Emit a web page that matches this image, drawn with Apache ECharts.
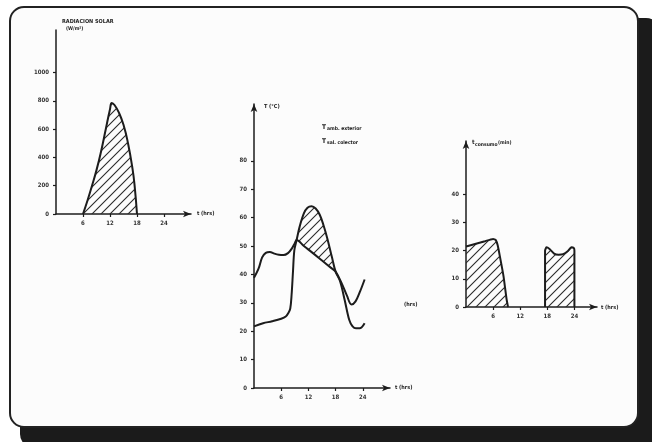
<!DOCTYPE html>
<html><head><meta charset="utf-8">
<script src="https://cdn.jsdelivr.net/npm/echarts@6/dist/echarts.min.js"></script>
<style>html,body{margin:0;padding:0;background:#fff}#c{width:652px;height:442px}</style>
</head><body><div id="c"></div>
<script>
// ---------- data ----------
const hourTicks = [6, 12, 18, 24];

// Chart 1: solar radiation (W/m2)
const radHours  = [6, 7, 8, 9, 10, 11, 12, 12.4, 13, 14, 15, 16, 17, 17.5, 18];
const radValues = [0, 95, 200, 310, 440, 590, 740, 785, 770, 715, 630, 500, 320, 190, 0];
const radTicks  = [0, 200, 400, 600, 800, 1000];

// Chart 2: temperatures (°C)
const extHours  = [0, 1, 1.8, 2.6, 3.5, 4.5, 5.5, 6.5, 7.5, 8.3, 9.0, 9.4, 11, 13, 15, 17, 18, 19.3, 20.5, 21.5, 22.4, 23.4, 24.4];
const extValues = [38.8, 42, 46, 47.6, 47.9, 47.3, 46.9, 46.8, 47.5, 49, 51, 52.1, 50, 47.5, 44.9, 42.3, 41, 37, 32.5, 29.4, 30.5, 34, 38.2];
const colHours  = [0, 2, 4, 6, 7, 7.6, 8.0, 8.3, 8.6, 8.9, 9.4, 10.1, 11, 11.8, 12.7, 13.6, 14.5, 15.3, 16.2, 17.2, 18, 19, 20, 21, 21.7, 22.5, 23.3, 24.4];
const colValues = [21.7, 22.8, 23.5, 24.4, 25.2, 26.5, 28, 33, 41, 48.5, 52.1, 57, 61.5, 63.5, 64, 63.2, 61, 57.5, 52.5, 46, 41, 37.5, 31, 24, 21.8, 21, 21, 22.8];
const tempTicks = [0, 10, 20, 30, 40, 50, 60, 70, 80];
const hatchStart = 9.4, hatchEnd = 18;

// Chart 3: consumption (min)
const cons1Hours  = [0, 2, 4, 6, 6.6, 7.0, 7.5, 8.3, 9.0, 9.3];
const cons1Values = [21.5, 22.4, 23.3, 24.2, 23.8, 22, 18, 11, 2.6, 0];
const cons2Hours  = [17.5, 17.5, 17.8, 18.5, 19.5, 20.5, 21.5, 22.5, 23.3, 23.9, 24, 24];
const cons2Values = [0, 20, 21.2, 20.6, 19, 18.6, 18.8, 19.8, 21.2, 20.9, 20, 0];
const consTicks = [0, 10, 20, 30, 40];

// ---------- helpers ----------
const zip = (xs, ys) => xs.map((x, i) => [x, ys[i]]);
const INK = '#1c1c1c';
const FONT = '"DejaVu Sans Condensed", "DejaVu Sans", sans-serif';

function makeHatch() {
  const s = 9, c = document.createElement('canvas');
  c.width = s; c.height = s;
  const g = c.getContext('2d');
  g.strokeStyle = '#2a2a2a'; g.lineWidth = 1.1;
  g.beginPath();
  g.moveTo(0, s); g.lineTo(s, 0);
  g.moveTo(-2, 2); g.lineTo(2, -2);
  g.moveTo(s - 2, s + 2); g.lineTo(s + 2, s - 2);
  g.stroke();
  return c;
}
const hatchCanvas = makeHatch();
const hatchFill = { image: hatchCanvas, repeat: 'repeat' };

const labelStyle = { fontSize: 6, fontWeight: 'bold', color: '#333', fontFamily: FONT, formatter: v => String(v) };

function xAx(gi, max) {
  return {
    type: 'value', gridIndex: gi, min: 0, max: max,
    axisLine: { show: true, onZero: false, symbol: ['none', 'arrow'], symbolSize: [5, 8], lineStyle: { color: INK, width: 1.5 } },
    axisTick: { show: true, customValues: hourTicks, length: 3, lineStyle: { color: INK, width: 1.2 } },
    axisLabel: Object.assign({ customValues: hourTicks, margin: 6 }, labelStyle),
    splitLine: { show: false }
  };
}
function yAx(gi, max, ticks, arrow) {
  return {
    type: 'value', gridIndex: gi, min: 0, max: max,
    axisLine: { show: true, onZero: false, symbol: arrow ? ['none', 'arrow'] : 'none', symbolSize: [5, 8], lineStyle: { color: INK, width: 1.5 } },
    axisTick: { show: true, customValues: ticks, length: 3, lineStyle: { color: INK, width: 1.2 } },
    axisLabel: Object.assign({ customValues: ticks, margin: 7 }, labelStyle),
    splitLine: { show: false }
  };
}
function txt(x, y, text, size, extra) {
  return Object.assign({ type: 'text', z: 50, style: { x: x, y: y, text: text, fill: '#222', font: 'bold ' + size + 'px ' + FONT, verticalAlign: 'middle' } }, extra || {});
}
const lineBase = { type: 'line', showSymbol: false, symbol: 'none', silent: true, lineStyle: { color: INK, width: 2 } };

const chart = echarts.init(document.getElementById('c'));
chart.setOption({
  backgroundColor: '#ffffff',
  animation: false,
  graphic: [
    { type: 'rect', z: -100, shape: { x: 20, y: 18, width: 640, height: 430, r: 14 }, style: { fill: '#1b1b1b' } },
    { type: 'rect', z: -99, shape: { x: 10, y: 7, width: 628, height: 420, r: 14 }, style: { fill: '#fcfcfc', stroke: '#222', lineWidth: 2 } },
    txt(62, 22, 'RADIACION SOLAR', 5.5),
    txt(66, 29, '(W/m²)', 5),
    txt(197, 214, 't (hrs)', 5.5),
    txt(264, 107, 'T (°C)', 5.5),
    txt(322, 127, 'T', 6.5),
    txt(327, 129, 'amb. exterior', 5),
    txt(322, 141, 'T', 6.5),
    txt(327, 143, 'sal. colector', 5),
    txt(395, 388, 't (hrs)', 5.5),
    txt(404, 305, '(hrs)', 5.5),
    txt(472, 142, 't', 6),
    txt(475, 145, 'consumo', 5),
    txt(498, 143, '(min)', 5),
    txt(601, 308, 't (hrs)', 5.5)
  ],
  grid: [
    { left: 56, top: 30, width: 135, height: 184 },
    { left: 254, top: 104, width: 136, height: 284 },
    { left: 466, top: 141, width: 131, height: 166 }
  ],
  xAxis: [xAx(0, 30), xAx(1, 30), xAx(2, 29)],
  yAxis: [yAx(0, 1300, radTicks, false), yAx(1, 100, tempTicks, true), yAx(2, 59, consTicks, true)],
  series: [
    Object.assign({}, lineBase, { xAxisIndex: 0, yAxisIndex: 0, smooth: 0.5, data: zip(radHours, radValues), areaStyle: { color: hatchFill, opacity: 1 } }),
    {
      type: 'custom', xAxisIndex: 1, yAxisIndex: 1, silent: true, z: 1,
      data: [[hatchStart, 0]],
      renderItem: function (params, api) {
        const up = zip(colHours, colValues).filter(p => p[0] >= hatchStart && p[0] <= hatchEnd);
        const lo = zip(extHours, extValues).filter(p => p[0] >= hatchStart && p[0] <= hatchEnd).reverse();
        const pts = up.concat(lo).map(p => api.coord(p));
        return { type: 'polygon', shape: { points: pts }, style: { fill: hatchFill, stroke: null } };
      }
    },
    Object.assign({}, lineBase, { xAxisIndex: 1, yAxisIndex: 1, smooth: 0.35, z: 3, data: zip(extHours, extValues) }),
    Object.assign({}, lineBase, { xAxisIndex: 1, yAxisIndex: 1, smooth: 0.35, z: 3, data: zip(colHours, colValues) }),
    Object.assign({}, lineBase, { xAxisIndex: 2, yAxisIndex: 2, smooth: 0.15, data: zip(cons1Hours, cons1Values), areaStyle: { color: hatchFill, opacity: 1 } }),
    Object.assign({}, lineBase, { xAxisIndex: 2, yAxisIndex: 2, smooth: 0.15, data: zip(cons2Hours, cons2Values), areaStyle: { color: hatchFill, opacity: 1 } })
  ]
});
</script>
</body></html>
